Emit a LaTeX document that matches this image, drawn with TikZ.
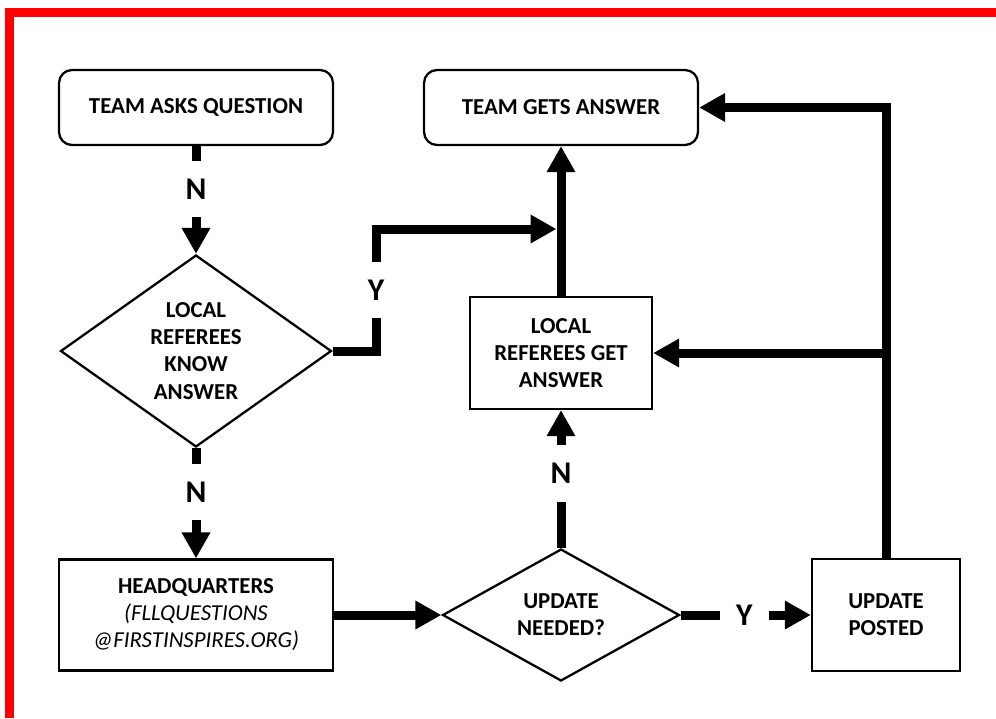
\documentclass[tikz,border=0pt]{standalone}
\usepackage{fontspec}
\setmainfont{Carlito}
\usetikzlibrary{arrows.meta, shapes}

\begin{document}
\begin{tikzpicture}[->,>={Triangle[length=0.52cm,width=0.54cm]},line width=0.18cm,
                    x=0.02cm,y=-0.02cm]
  \tikzstyle{box}=[draw,line width=1.3pt,align=center,inner sep=0pt,
                   font=\fontsize{13}{15.4}\selectfont\bfseries]
  \tikzstyle{terminal}=[box,rounded corners=0.26cm,minimum width=5.48cm,minimum height=1.5cm]
  \tikzstyle{process}=[box,rectangle,minimum height=2.24cm]
  \tikzstyle{decision}=[box,diamond,aspect=1.5]
  \tikzstyle{choice}=[fill=white,draw=none,inner xsep=0.32cm,inner ysep=0.36cm,
                      font=\fontsize{18}{21}\selectfont\bfseries]

  \useasboundingbox (0,0) rectangle (996,718);
  \draw[-,red,line width=0.18cm] (9.5,718) -- (9.5,12.5) -- (996,12.5);

  \node[terminal] (ask)  at (196,107.5) {TEAM ASKS QUESTION};
  \node[terminal] (gets) at (561,107.5) {TEAM GETS ANSWER};
  \node[decision,minimum width=5.42cm,minimum height=3.84cm] (know) at (196,351)
       {LOCAL\\REFEREES\\KNOW\\ANSWER};
  \node[process,minimum width=3.64cm] (lrget) at (561,353) {LOCAL\\REFEREES GET\\ANSWER};
  \node[process,minimum width=5.48cm,minimum height=2.22cm] (hq) at (196,615)
       {HEADQUARTERS\\{\mdseries\itshape (FLLQUESTIONS}\\{\mdseries\itshape @FIRSTINSPIRES.ORG)}};
  \node[decision,minimum width=4.74cm,minimum height=2.64cm] (upd) at (561,615) {UPDATE\\NEEDED?};
  \node[process,minimum width=2.96cm] (posted) at (886,615) {UPDATE\\POSTED};

  \coordinate (yturn) at (376,229);
  \coordinate (merge) at (561,229);
  \coordinate (branch) at (posted.north |- lrget.east);

  \path (ask) edge node[choice,pos=0.4] {N} (know)
        (know) edge node[choice,pos=0.4] {N} (hq)
        (hq) edge (upd)
        (upd) edge node[choice,pos=0.49] {Y} (posted)
              edge node[choice,pos=0.54] {N} (lrget)
        (lrget) edge (gets);

  \draw[shorten >=0.09cm] (know.east) -| node[choice,pos=0.75] {Y} (yturn) -- (merge);
  \draw (posted.north) |- (gets.east);
  \draw (branch) -- (lrget.east);
\end{tikzpicture}
\end{document}
